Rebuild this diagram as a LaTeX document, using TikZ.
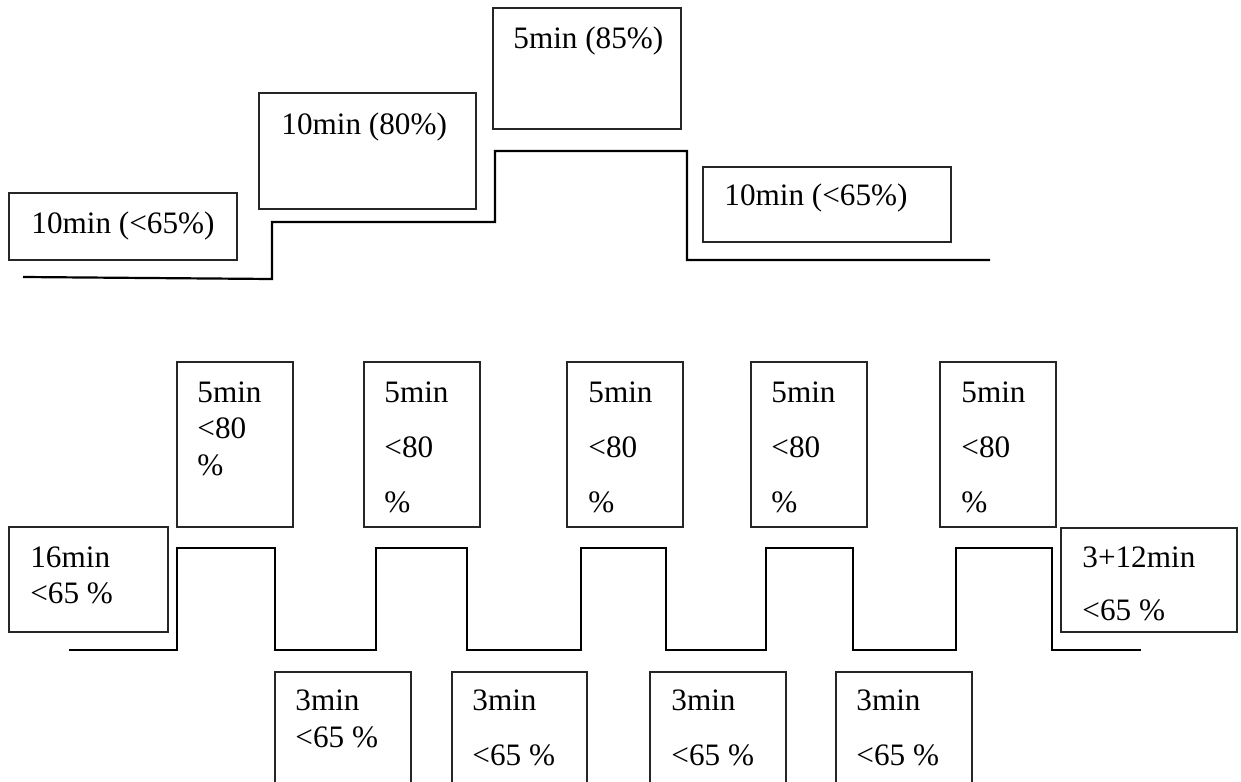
\documentclass[tikz,border=0pt]{standalone}
\usepackage{fontspec}
\setmainfont{Liberation Serif}

\begin{document}
\begin{tikzpicture}[x=0.5pt,y=-0.5pt,
	box/.style={draw=black!85, line width=0.6pt},
	level/.style={draw=black, line width=1.1pt},
	lbl/.style={anchor=base west, inner sep=0pt, font=\fontsize{15.6}{18}\selectfont}]

	%page frame, 1 unit = 1 pixel of the sheet
	\useasboundingbox (0,0) rectangle (1241,781);
	\clip (0,0) rectangle (1241,781);

	%continuous session, place on top
	\begin{scope}
		%boxes
		\draw[box] (9,193) rectangle (237,260);
		\draw[box] (259,93) rectangle (476,209);
		\draw[box] (493,8) rectangle (681,129);
		\draw[box] (703,167) rectangle (951,242);
		%labels
		\node[lbl] (warmUp) at (31,233) {10min (<65\%)};
		\node[lbl] (stepOne) at (281,134) {10min (80\%)};
		\node[lbl] (stepTwo) at (513,49) {5min (85\%)};
		\node[lbl] (coolDown) at (724,205) {10min (<65\%)};
		%intensity profile
		\draw[level] (23,277) -- (272,279) -- (272,222) -- (495,222) -- (495,151) -- (687,151) -- (687,260) -- (990,260);
	\end{scope}

	%interval session, below
	%high boxes sit above the wave, low boxes below it
	\begin{scope}
		%start and end
		\draw[box] (9,527) rectangle (168,632);
		\node[lbl] (startTime) at (30,567) {16min};
		\node[lbl] (startLoad) at (30,603) {<65 \%};
		\draw[box] (1061,528) rectangle (1237,632);
		\node[lbl] (endTime) at (1082,567) {3+12min};
		\node[lbl] (endLoad) at (1082,620) {<65 \%};

		%high intervals
		\draw[box] (177,362) rectangle (293,527);
		\node[lbl] (hiOneTime) at (197,402) {5min};
		\node[lbl] (hiOneLoad) at (197,438) {<80};
		\node[lbl] (hiOnePct) at (197,475) {\%};
		\draw[box] (364,362) rectangle (480,527);
		\node[lbl] (hiTwoTime) at (384,402) {5min};
		\node[lbl] (hiTwoLoad) at (384,457) {<80};
		\node[lbl] (hiTwoPct) at (384,512) {\%};
		\draw[box] (567,362) rectangle (683,527);
		\node[lbl] (hiThreeTime) at (588,402) {5min};
		\node[lbl] (hiThreeLoad) at (588,457) {<80};
		\node[lbl] (hiThreePct) at (588,512) {\%};
		\draw[box] (751,362) rectangle (867,527);
		\node[lbl] (hiFourTime) at (771,402) {5min};
		\node[lbl] (hiFourLoad) at (771,457) {<80};
		\node[lbl] (hiFourPct) at (771,512) {\%};
		\draw[box] (940,362) rectangle (1056,527);
		\node[lbl] (hiFiveTime) at (961,402) {5min};
		\node[lbl] (hiFiveLoad) at (961,457) {<80};
		\node[lbl] (hiFivePct) at (961,512) {\%};

		%low intervals, run off the page
		\draw[box] (275,800) -- (275,672) -- (411,672) -- (411,800);
		\node[lbl] (loOneTime) at (295,710) {3min};
		\node[lbl] (loOneLoad) at (295,747) {<65 \%};
		\draw[box] (452,800) -- (452,672) -- (587,672) -- (587,800);
		\node[lbl] (loTwoTime) at (472,710) {3min};
		\node[lbl] (loTwoLoad) at (472,765) {<65 \%};
		\draw[box] (650,800) -- (650,672) -- (786,672) -- (786,800);
		\node[lbl] (loThreeTime) at (671,710) {3min};
		\node[lbl] (loThreeLoad) at (671,765) {<65 \%};
		\draw[box] (836,800) -- (836,672) -- (972,672) -- (972,800);
		\node[lbl] (loFourTime) at (856,710) {3min};
		\node[lbl] (loFourLoad) at (856,765) {<65 \%};

		%intensity profile
		\draw[level] (69,650) -- (177,650) -- (177,548) -- (275,548) -- (275,650) -- (376,650) -- (376,548) -- (467,548) -- (467,650) -- (581,650) -- (581,548) -- (666,548) -- (666,650) -- (766,650) -- (766,548) -- (853,548) -- (853,650) -- (956,650) -- (956,548) -- (1052,548) -- (1052,650) -- (1141,650);
	\end{scope}

\end{tikzpicture}
\end{document}
